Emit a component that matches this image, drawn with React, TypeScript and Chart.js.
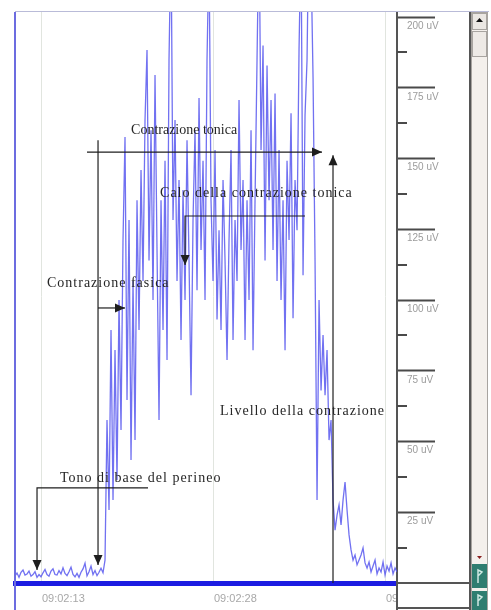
import React, { useEffect, useRef } from "react";
import { Chart, registerables } from "chart.js";

Chart.register(...registerables);

// Time axis: seconds after 09:02:00
const START_SEC = 10.65;
const SAMPLE_SEC = 0.17442;
const END_SEC = 43.96;
const TIME_TICKS = [13, 28, 43];
const TIME_LABELS = ["09:02:13", "09:02:28", "09:02:43"];

// Amplitude axis (uV)
const UV_MAX = 201.8;
const UV_TICKS = [12.5, 25, 37.5, 50, 62.5, 75, 87.5, 100, 112.5, 125, 137.5, 150, 162.5, 175, 187.5, 200];

// EMG samples (uV), one per sample interval
const EMG_BASELINE_UV = [
  2.5, 3.5, 2.0, 3.8, 4.6, 2.8, 3.2, 4.2, 2.4, 3.0,
  4.0, 2.0, 3.0, 2.2, 3.6, 4.8, 3.0, 2.4, 4.2, 5.0,
  3.0, 2.8, 4.4, 3.2, 5.4, 3.4, 2.6, 4.0, 5.6, 3.0,
  2.2, 3.4, 2.0, 3.8, 5.0, 7.0, 2.5, 4.0, 6.0, 3.0,
  4.4, 2.6, 3.8, 5.2, 3.6,
];
const EMG_CONTRACTION_UV = [
  8.1, 57.6, 25.8, 89.4, 29.3, 82.3, 36.4, 100, 54.1, 121.2,
  157.6, 64.7, 128.3, 43.5, 106.7, 50.5, 135.3, 89.4, 146, 106.7,
  163.6, 188.4, 114, 160, 100, 179.5, 117.7, 57.6, 135.3, 89.4,
  149.2, 78.8, 184.8, 230, 128.3, 163.6, 106.7, 142.4, 85.9, 138.9,
  100, 156.5, 114, 66.4, 128.3, 160, 103.5, 171.4, 117.7, 149.2,
  100, 184.8, 225, 135.3, 106.7, 153, 93.1, 124.7, 89.4, 142.4,
  114, 78.8, 121.2, 153, 85.9, 128.3, 106.7, 170.7, 117.7, 142.4,
  85.9, 135.3, 100, 160, 82.3, 135.3, 184.8, 235, 153, 190,
  114, 182.9, 135.3, 170.7, 117.7, 173, 106.7, 153, 100, 135.3,
  82.3, 149.2, 121.2, 166, 93.6, 142.4, 124.7, 188.4, 230, 108.8,
  165.4, 184.8, 240, 220, 178.8, 114, 29.3, 100, 68, 87.6,
  66.4, 82.3, 50.5, 57.6, 29.3, 18.7, 24, 27.6, 20.5, 29.3,
  35.7, 25.8, 17, 11.7, 8.1, 9.9, 6.4, 8.1, 9.9, 12.4,
  7.1, 5.3, 7.4, 3.9, 6.0, 8.1, 3.2, 5.3, 3.9, 7.4,
  2.8, 6.0, 4.2, 7.1, 3.2, 5.3, 3.9,
];
const EMG_UV = [...EMG_BASELINE_UV, ...EMG_CONTRACTION_UV];

// Annotation texts (anchor: left edge, vertical middle) in data units [sec, uV]
const NOTE_TEXTS = ["Contrazione tonica", "Calo della contrazione tonica", "Contrazione fasica", "Livello della contrazione", "Tono di base del perineo"];
const NOTE_SEC = [20.77, 23.3, 13.44, 28.53, 14.57];
const NOTE_UV = [160.1, 137.8, 106, 60.8, 37.1];
const NOTE_SPACING = ["0px", "1px", "1px", "1px", "1px"];

// Annotation arrows as polylines in data units; arrowhead at last point
const ARROWS: number[][][] = [
  [[16.93, 152.3], [37.42, 152.3]],
  [[17.89, 156.5], [17.89, 6.4]],
  [[38.38, 0], [38.38, 151.2]],
  [[35.94, 129.7], [25.48, 129.7], [25.48, 112.4]],
  [[17.89, 97.2], [20.24, 97.2]],
  [[22.25, 33.6], [12.57, 33.6], [12.57, 4.6]],
];

const SERIF = '"Liberation Serif", "Times New Roman", serif';
const SANS = '"Liberation Sans", Arial, sans-serif';

function drawArrow(ctx: CanvasRenderingContext2D, pts: number[][]) {
  ctx.beginPath();
  ctx.moveTo(pts[0][0], pts[0][1]);
  for (let i = 1; i < pts.length; i++) ctx.lineTo(pts[i][0], pts[i][1]);
  ctx.stroke();
  const [x1, y1] = pts[pts.length - 2];
  const [x2, y2] = pts[pts.length - 1];
  const a = Math.atan2(y2 - y1, x2 - x1);
  const L = 10, W = 4.5;
  const c = Math.cos(a), s = Math.sin(a);
  ctx.beginPath();
  ctx.moveTo(x2, y2);
  ctx.lineTo(x2 - L * c + W * s, y2 - L * s - W * c);
  ctx.lineTo(x2 - L * c - W * s, y2 - L * s + W * c);
  ctx.closePath();
  ctx.fill();
}

const decorPlugin = {
  id: "decor",
  beforeDraw(chart: any) {
    const { ctx, width, height } = chart;
    ctx.save();
    ctx.fillStyle = "#ffffff";
    ctx.fillRect(0, 0, width, height);
    ctx.restore();
  },
  afterDatasetsDraw(chart: any) {
    const { ctx } = chart;
    const xs = chart.scales.x;
    const ys = chart.scales.y;
    ctx.save();
    ctx.strokeStyle = "#1e1e1e";
    ctx.fillStyle = "#1e1e1e";
    ctx.lineWidth = 1.2;
    ARROWS.forEach((poly) => {
      const pts = poly.map(([t, v]) => [xs.getPixelForValue(t), ys.getPixelForValue(v)]);
      drawArrow(ctx, pts);
    });
    ctx.font = `14px ${SERIF}`;
    ctx.fillStyle = "#262626";
    ctx.textAlign = "left";
    ctx.textBaseline = "middle";
    NOTE_TEXTS.forEach((txt, i) => {
      (ctx as any).letterSpacing = NOTE_SPACING[i];
      ctx.fillText(txt, xs.getPixelForValue(NOTE_SEC[i]), ys.getPixelForValue(NOTE_UV[i]));
    });
    (ctx as any).letterSpacing = "0px";
    ctx.restore();
  },
  afterDraw(chart: any) {
    const { ctx } = chart;
    const ca = chart.chartArea;
    const ys = chart.scales.y;
    const right = ca.right;
    const panelR = ys.right;
    ctx.save();
    // hide label overflow under right panel
    ctx.fillStyle = "#ffffff";
    ctx.fillRect(right + 1, ca.bottom + 2, panelR - right - 2, 24);
    // minor ticks
    ctx.strokeStyle = "#4a4a4a";
    ctx.lineWidth = 2;
    UV_TICKS.filter((v) => v % 25 !== 0).forEach((v) => {
      const y = Math.round(ys.getPixelForValue(v));
      ctx.beginPath();
      ctx.moveTo(right, y);
      ctx.lineTo(right + 10, y);
      ctx.stroke();
    });
    // panel frame
    ctx.strokeStyle = "#555";
    ctx.lineWidth = 2;
    ctx.beginPath();
    ctx.moveTo(right, ca.bottom);
    ctx.lineTo(right, 610);
    ctx.moveTo(right, ca.bottom);
    ctx.lineTo(panelR, ca.bottom);
    ctx.moveTo(right, 608);
    ctx.lineTo(panelR, 608);
    ctx.moveTo(panelR, ca.top);
    ctx.lineTo(panelR, 610);
    ctx.stroke();
    // top border
    ctx.strokeStyle = "#b9bbd8";
    ctx.lineWidth = 1;
    ctx.beginPath();
    ctx.moveTo(ca.left, ca.top - 0.5);
    ctx.lineTo(489, ca.top - 0.5);
    ctx.stroke();
    // left border
    ctx.strokeStyle = "#6c6ce0";
    ctx.lineWidth = 2;
    ctx.beginPath();
    ctx.moveTo(ca.left, ca.top);
    ctx.lineTo(ca.left, 610);
    ctx.stroke();
    // scrollbar
    const sx = panelR + 1;
    const sw = 17;
    ctx.fillStyle = "#f4f0ec";
    ctx.fillRect(sx, ca.top, sw, 610 - ca.top);
    ctx.strokeStyle = "#a8a4a0";
    ctx.lineWidth = 1;
    ctx.strokeRect(sx + 0.5, ca.top + 0.5, sw - 1, 610 - ca.top);
    ctx.fillStyle = "#ebe7e3";
    ctx.fillRect(sx + 1, ca.top + 1, sw - 2, 17);
    ctx.strokeRect(sx + 1.5, ca.top + 1.5, sw - 3, 16);
    ctx.fillStyle = "#111";
    ctx.beginPath();
    ctx.moveTo(sx + 8.5, ca.top + 6);
    ctx.lineTo(sx + 5, ca.top + 10);
    ctx.lineTo(sx + 12, ca.top + 10);
    ctx.closePath();
    ctx.fill();
    ctx.fillStyle = "#eeeae6";
    ctx.fillRect(sx + 1, ca.top + 19, sw - 2, 26);
    ctx.strokeRect(sx + 1.5, ca.top + 19.5, sw - 3, 25);
    ctx.fillStyle = "#8a2020";
    ctx.beginPath();
    ctx.moveTo(sx + 6, 556);
    ctx.lineTo(sx + 11, 556);
    ctx.lineTo(sx + 8.5, 559);
    ctx.closePath();
    ctx.fill();
    ctx.fillStyle = "#2f7d70";
    ctx.fillRect(sx + 1, 564, sw - 2, 24);
    ctx.fillRect(sx + 1, 591, sw - 2, 19);
    ctx.strokeStyle = "#cfe8e2";
    ctx.lineWidth = 1.5;
    ctx.beginPath();
    ctx.moveTo(sx + 7, 583);
    ctx.lineTo(sx + 7, 570);
    ctx.lineTo(sx + 11, 572);
    ctx.lineTo(sx + 7, 576);
    ctx.moveTo(sx + 7, 606);
    ctx.lineTo(sx + 7, 595);
    ctx.lineTo(sx + 11, 597);
    ctx.lineTo(sx + 7, 601);
    ctx.stroke();
    ctx.restore();
  },
};

export default function App() {
  const ref = useRef<HTMLCanvasElement>(null);

  useEffect(() => {
    const canvas = ref.current;
    if (!canvas) return;
    const points = EMG_UV.map((v, i) => ({ x: START_SEC + i * SAMPLE_SEC, y: v }));
    const chart = new Chart(canvas, {
      type: "line",
      data: {
        datasets: [
          {
            label: "EMG",
            data: points,
            borderColor: "rgba(88, 88, 238, 0.85)",
            borderWidth: 1.3,
            pointRadius: 0,
            tension: 0,
            clip: 0,
          } as any,
        ],
      },
      options: {
        responsive: false,
        animation: false,
        events: [],
        layout: { padding: { left: 15, top: 12, right: 21, bottom: 0 } },
        plugins: { legend: { display: false }, tooltip: { enabled: false }, title: { display: false } },
        scales: {
          x: {
            type: "linear",
            min: START_SEC,
            max: END_SEC,
            afterBuildTicks: (scale: any) => {
              scale.ticks = TIME_TICKS.map((v) => ({ value: v }));
            },
            afterFit: (scale: any) => {
              scale.height = 27;
            },
            ticks: {
              align: "start",
              autoSkip: false,
              maxRotation: 0,
              padding: 9,
              color: "#a8a8a8",
              font: { family: SANS, size: 11 },
              callback: (_v: any, i: number) => TIME_LABELS[i],
            },
            grid: { color: "#e1e5df", lineWidth: 1, drawTicks: false },
            border: { color: "#1c1ce2", width: 5 },
          },
          y: {
            type: "linear",
            position: "right",
            min: 0,
            max: UV_MAX,
            afterBuildTicks: (scale: any) => {
              scale.ticks = UV_TICKS.map((v) => ({ value: v }));
            },
            afterFit: (scale: any) => {
              scale.width = 73;
            },
            ticks: {
              autoSkip: false,
              padding: -28,
              labelOffset: 9,
              color: "#9c9c9c",
              font: { family: SANS, size: 10 },
              callback: (v: any) => (Number(v) % 25 === 0 ? `${v} uV` : ""),
            },
            grid: {
              drawOnChartArea: false,
              drawTicks: true,
              tickLength: 38,
              tickWidth: 2,
              tickColor: (c: any) => (c.tick && c.tick.value % 25 === 0 ? "#4a4a4a" : "rgba(0,0,0,0)"),
            },
            border: { color: "#555", width: 2 },
          },
        },
      } as any,
      plugins: [decorPlugin],
    });
    return () => chart.destroy();
  }, []);

  return (
    <div style={{ position: "fixed", left: 0, top: 0, width: 491, height: 610, background: "#fff" }}>
      <canvas ref={ref} width={491} height={610} style={{ display: "block", width: 491, height: 610 }} />
    </div>
  );
}
